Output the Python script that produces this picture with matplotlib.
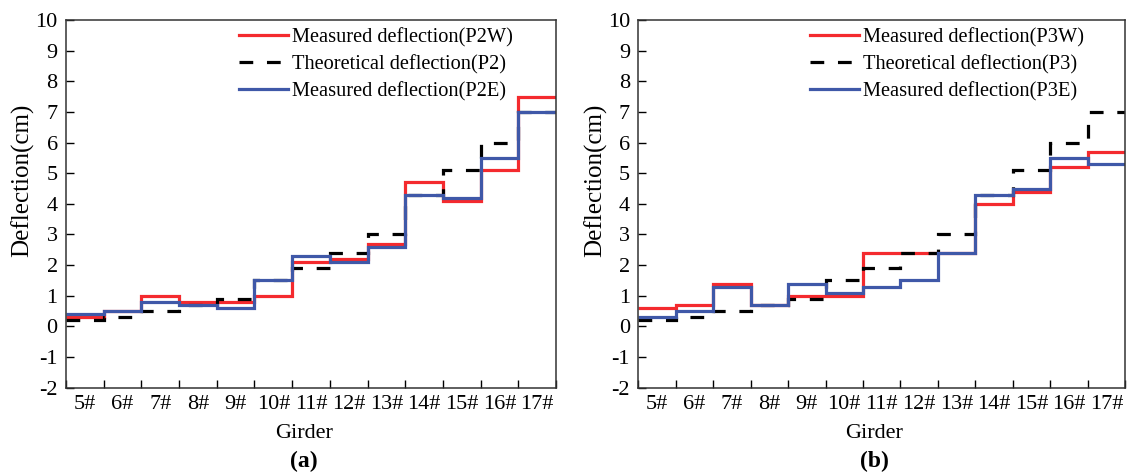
import numpy as np
import matplotlib
matplotlib.use("Agg")
import matplotlib.pyplot as plt

plt.rcParams['font.family'] = ['Liberation Serif', 'DejaVu Serif']
plt.rcParams['axes.unicode_minus'] = False

girders = ['5#', '6#', '7#', '8#', '9#', '10#', '11#', '12#', '13#', '14#', '15#', '16#', '17#']

# deflection per girder (cm)
p2w = [0.3, 0.5, 1.0, 0.8, 0.8, 1.0, 2.1, 2.2, 2.7, 4.7, 4.1, 5.1, 7.5]
p2_theory = [0.2, 0.3, 0.5, 0.7, 0.9, 1.5, 1.9, 2.4, 3.0, 4.3, 5.1, 6.0, 7.0]
p2e = [0.4, 0.5, 0.8, 0.7, 0.6, 1.5, 2.3, 2.1, 2.6, 4.3, 4.2, 5.5, 7.0]

p3w = [0.6, 0.7, 1.4, 0.7, 1.0, 1.0, 2.4, 2.4, 2.4, 4.0, 4.4, 5.2, 5.7]
p3_theory = [0.2, 0.3, 0.5, 0.7, 0.9, 1.5, 1.9, 2.4, 3.0, 4.3, 5.1, 6.0, 7.0]
p3e = [0.3, 0.5, 1.3, 0.7, 1.4, 1.1, 1.3, 1.5, 2.4, 4.3, 4.5, 5.5, 5.3]

RED = '#f42a2e'
BLUE = '#3f58a8'
FS = 16

fig = plt.figure(figsize=(11.28, 4.76), dpi=100)
ax_a = fig.add_axes([0.0585, 0.1855, 0.4344, 0.7725])
ax_b = fig.add_axes([0.5659, 0.1855, 0.4315, 0.7725])


def draw_panel(ax, west, theory, east, tag, panel):
    edges = np.arange(len(girders) + 1)
    ax.stairs(west, edges, baseline=None, color=RED, lw=2.3,
              label=f'Measured deflection({tag}W)')
    ax.stairs(theory, edges, baseline=None, color='black', lw=2.3,
              linestyle=(0, (4.3, 4.3)), label=f'Theoretical deflection({tag})')
    ax.stairs(east, edges, baseline=None, color=BLUE, lw=2.3,
              label=f'Measured deflection({tag}E)')

    ax.set_xlim(0, len(girders))
    ax.set_ylim(-2, 10)
    ax.set_yticks(range(-2, 11))
    ax.set_xticks(edges)
    ax.set_xticklabels([])
    ax.set_xticks(edges[:-1] + 0.5, minor=True)
    ax.set_xticklabels(girders, minor=True, fontsize=FS)
    ax.tick_params(axis='x', which='major', direction='in', length=6, width=1)
    ax.tick_params(axis='x', which='minor', length=0, pad=5)
    ax.tick_params(axis='y', direction='in', length=6, width=1, labelsize=FS, pad=6)
    for s in ax.spines.values():
        s.set_linewidth(1.1)
        s.set_color('#333333')

    ax.set_ylabel('Deflection(cm)', fontsize=FS + 2)
    ax.yaxis.set_label_coords(-0.064, 0.565)
    ax.set_xlabel('Girder', fontsize=FS)
    ax.xaxis.set_label_coords(0.485, -0.1)
    ax.text(0.485, -0.2, panel, transform=ax.transAxes, ha='center', va='center',
            fontsize=FS + 1, fontweight='bold')

    ax.legend(loc='upper left', bbox_to_anchor=(0.345, 0.99), frameon=False,
              fontsize=FS - 1.3, handlelength=2.4, handletextpad=0.18,
              labelspacing=0.38, borderaxespad=0.0, borderpad=0.2)


draw_panel(ax_a, p2w, p2_theory, p2e, 'P2', '(a)')
draw_panel(ax_b, p3w, p3_theory, p3e, 'P3', '(b)')

fig.savefig('out.png', dpi=100)
